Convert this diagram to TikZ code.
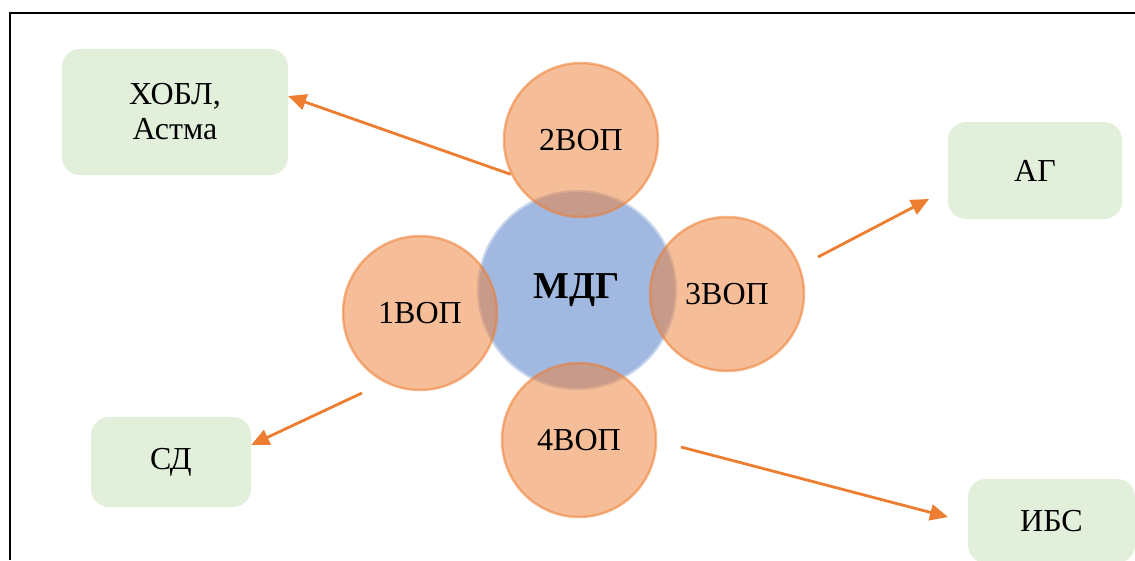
\documentclass[tikz,border=0pt]{standalone}
\usepackage{fontspec}
\setmainfont{Liberation Serif}
\usetikzlibrary{arrows.meta,positioning}
\definecolor{accblue}{HTML}{4472C4}
\definecolor{accorange}{HTML}{ED7D31}
\definecolor{boxgreen}{HTML}{E2EFDA}

\begin{document}
\begin{tikzpicture}[
    x=1pt,y=-1pt,>={Triangle[length=18pt,width=16pt]},
    node distance=150pt,on grid,
    font=\fontsize{32}{35}\selectfont,
    hub/.style={circle,minimum size=198pt,inner sep=0pt,fill=accblue,fill opacity=0.5,
      draw=accblue!30,line width=2pt,text opacity=1,font=\fontsize{38}{42}\selectfont\bfseries},
    vop/.style={circle,minimum size=154pt,inner sep=0pt,fill=accorange,fill opacity=0.5,
      draw=accorange,draw opacity=0.55,line width=2.5pt,text opacity=1},
    dis/.style={rectangle,rounded corners=18pt,fill=boxgreen,align=center,inner sep=0pt},
    link/.style={->,draw=accorange,line width=2.8pt}
  ]
  \useasboundingbox (0,0) rectangle (1135,560);
  \draw[line width=2pt] (10,560) -- (10,13) -- (1135,13);

  % centre and the four circles round it
  \node[hub] (mdg) at (577,290) {МДГ};
  \node[vop] (vop2) [above=of mdg,xshift=4pt] {2ВОП};
  \node[vop] (vop3) [right=of mdg,yshift=-4pt] {3ВОП};
  \node[vop] (vop4) [below=of mdg,xshift=2pt] {4ВОП};
  \node[vop] (vop1) [left=157pt of mdg,yshift=-23pt] {1ВОП};

  % diseases
  \node[dis,minimum width=226pt,minimum height=126pt] (hobl) at (175,112) {ХОБЛ,\\Астма};
  \node[dis,minimum width=160pt,minimum height=90pt] (sd) at (171,462) {СД};
  \node[dis,minimum width=174pt,minimum height=97pt] (ag) at (1035,170.5) {АГ};
  \node[dis,minimum width=167pt,minimum height=84pt] (ibs) at (1051.5,521) {ИБС};

  \coordinate (s1) at (362,393);
  \coordinate (s3) at (818,257);
  \coordinate (e3) at (929,199);
  \coordinate (s4) at (681,447);
  \coordinate (e4) at (948,517);

  \path
    (vop2.206) edge [link] (hobl.8)
    (s1) edge [link] (sd.12)
    (s3) edge [link] (e3)
    (s4) edge [link] (e4);
\end{tikzpicture}
\end{document}
